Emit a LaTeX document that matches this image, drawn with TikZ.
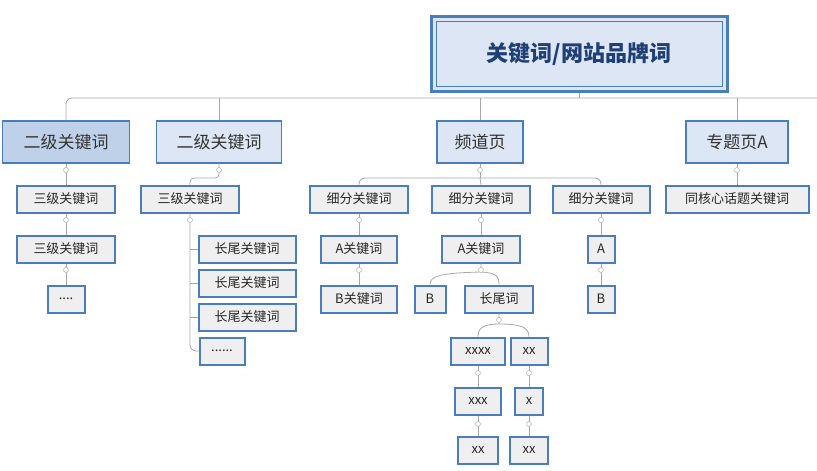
\documentclass[tikz,border=0pt]{standalone}
\usepackage{fontspec}
\setmainfont{Noto Sans CJK SC}
\definecolor{bd}{HTML}{4A7EBB}
\definecolor{bf}{HTML}{EFEFEF}
\definecolor{lf}{HTML}{DCE6F4}
\definecolor{rt}{HTML}{1F3F75}
\begin{document}
\begin{tikzpicture}[x=1pt,y=-1pt,
 ln/.style={draw=gray!70,line width=0.8pt,rounded corners=6pt},
 lv2/.style={draw=bd,line width=1.2pt,fill=lf,minimum height=42pt,font=\fontsize{17}{17}\selectfont,text=black!80},
 bx/.style={draw=bd,line width=2pt,fill=bf,minimum height=27pt,font=\fontsize{13}{13}\selectfont,text=black!85,inner xsep=3pt},
 mk/.style={circle,draw=gray!60,fill=white,inner sep=0pt,minimum size=5pt,line width=0.5pt}]
\useasboundingbox (0,0) rectangle (817,471);
% root
\node[draw=bd,line width=3pt,fill=lf,minimum width=296pt,minimum height=75pt] (root) at (579,54) {};
\node[draw=bd,line width=1pt,minimum width=286pt,minimum height=65pt,font=\fontsize{22}{22}\selectfont\bfseries,text=rt] at (579,54) {关键词/网站品牌词};
% level 2
\node[lv2,minimum width=127pt,fill=lf!80!bd] (a) at (66,142) {二级关键词};
\node[lv2,minimum width=125pt] (b) at (219,142) {二级关键词};
\node[lv2,minimum width=86pt] (c) at (480,142) {频道页};
\node[lv2,minimum width=102pt] (d) at (737,142) {专题页A};
\draw[ln] (root.south) -- (579,98);
\draw[ln] (a.north) -- (66,98) -- (817,98);
\draw[ln] (b.north) -- (219,98);
\draw[ln] (c.north) -- (480,98);
\draw[ln] (d.north) -- (737,98);
% level 3
\node[bx,minimum width=98pt] (a1) at (66,199) {三级关键词};
\node[bx,minimum width=98pt] (a2) at (66,249) {三级关键词};
\node[bx,minimum width=37pt] (a3) at (66,299) {....};
\node[bx,minimum width=98pt] (b1) at (190,199) {三级关键词};
\node[bx,minimum width=97pt] (b2) at (247,249) {长尾关键词};
\node[bx,minimum width=97pt] (b3) at (247,283) {长尾关键词};
\node[bx,minimum width=97pt] (b4) at (247,317) {长尾关键词};
\node[bx,minimum width=45pt] (b5) at (222,351) {......};
\node[bx,minimum width=98pt] (c1) at (359,199) {细分关键词};
\node[bx,minimum width=98pt] (c2) at (481,199) {细分关键词};
\node[bx,minimum width=97pt] (c3) at (601,199) {细分关键词};
\node[bx,minimum width=143pt] (d1) at (737,199) {同核心话题关键词};
\node[bx,minimum width=76pt] (c11) at (359,249) {A关键词};
\node[bx,minimum width=76pt] (c12) at (359,299) {B关键词};
\node[bx,minimum width=78pt] (c21) at (481,249) {A关键词};
\node[bx,minimum width=31pt] (c22) at (430,299) {B};
\node[bx,minimum width=68pt] (c23) at (499,299) {长尾词};
\node[bx,minimum width=27pt] (c31) at (601,249) {A};
\node[bx,minimum width=27pt] (c32) at (601,299) {B};
\node[bx,minimum width=54pt] (x1) at (478,351) {xxxx};
\node[bx,minimum width=37pt] (y1) at (529,351) {xx};
\node[bx,minimum width=46pt] (x2) at (478,401) {xxx};
\node[bx,minimum width=28pt] (y2) at (529,401) {x};
\node[bx,minimum width=40pt] (x3) at (478,450) {xx};
\node[bx,minimum width=38pt] (y3) at (529,450) {xx};
% connectors
\draw[ln] (a.south) -- (a1.north);
\draw[ln] (a1.south) -- (a2.north);
\draw[ln] (a2.south) -- (a3.north);
\draw[ln,rounded corners=4pt] (b.south) -- (219,178) -- (190,178) -- (b1.north);
\draw[ln] (b1.south) -- (190,351) -- (b5.west);
\draw[ln] (190,249) -- (b2.west);
\draw[ln] (190,283) -- (b3.west);
\draw[ln] (190,317) -- (b4.west);
\draw[ln] (c.south) -- (480,178);
\draw[ln] (c1.north) -- (359,178) -- (601,178) -- (c3.north);
\draw[ln] (480,178) -- (c2.north);
\draw[ln] (d.south) -- (d1.north);
\draw[ln] (c1.south) -- (c11.north);
\draw[ln] (c11.south) -- (c12.north);
\draw[ln] (c2.south) -- (c21.north);
\draw[ln] (c3.south) -- (c31.north);
\draw[ln] (c31.south) -- (c32.north);
\draw[ln,rounded corners=0] (c21.south) -- (481,272) (c22.north) .. controls (430,276) and (440,273) .. (481,272) .. controls (497,273) and (499,276) .. (c23.north);
\draw[ln,rounded corners=0] (c23.south) -- (499,324) (x1.north) .. controls (478,327) and (485,324) .. (499,324) .. controls (520,324) and (529,327) .. (y1.north);
\draw[ln] (x1.south) -- (x2.north); \draw[ln] (x2.south) -- (x3.north);
\draw[ln] (y1.south) -- (y2.north); \draw[ln] (y2.south) -- (y3.north);
% markers
\foreach \p in {(66,170),(66,220),(66,270),(219,170),(190,220),(480,170),(359,220),(481,220),(601,220),(737,170),(359,270),(481,270),(601,270),(499,320),(478,373),(529,373),(478,424),(529,424)}
  \node[mk] at \p {};
\end{tikzpicture}
\end{document}
